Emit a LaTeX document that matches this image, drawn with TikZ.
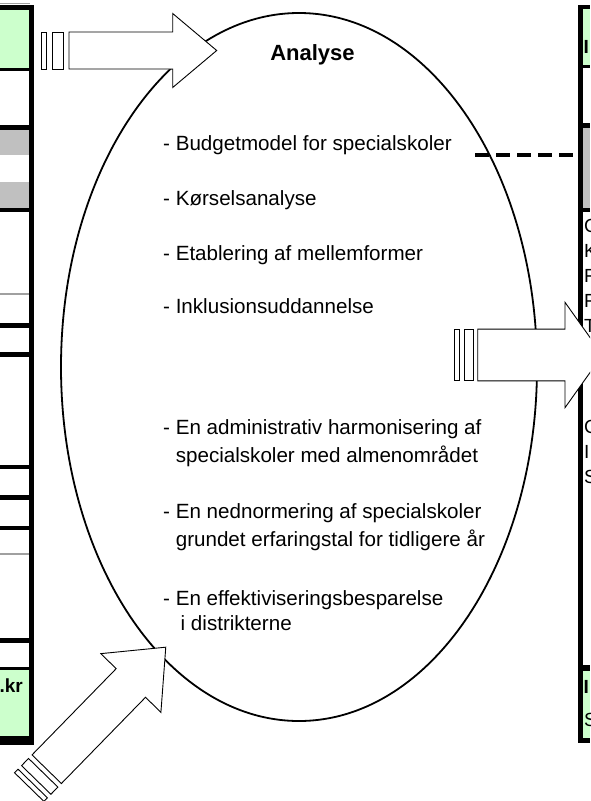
\documentclass[tikz,border=0pt]{standalone}
\usepackage{fontspec}
\setmainfont{Liberation Sans}
\definecolor{lgreen}{HTML}{CCFFCC}
\definecolor{lgray}{HTML}{C0C0C0}
\definecolor{lineg}{HTML}{A0A0A0}
\newcommand{\blockarr}[7]{%
  \draw[barrow] (0,-#2) -- (#1,-#2) -- (#1,-#3) -- ({#1+#4},0) -- (#1,#3) -- (#1,#2) -- (0,#2) -- cycle;
  \draw[barrow] (-#5,-#2) rectangle ({-#5-#6},#2);
  \draw[barrow] ({-2*#5-#6},-#2) rectangle ({-2*#5-#6-#7},#2);
}
\begin{document}
\begin{tikzpicture}[x=1pt,y=-1pt,
  txt/.style={anchor=base west, inner sep=0pt, font=\fontsize{20.6}{24}\selectfont},
  rtxt/.style={anchor=base west, inner sep=0pt, font=\fontsize{19}{22}\selectfont},
  title/.style={anchor=base, inner sep=0pt, font=\fontsize{22}{26}\selectfont\bfseries},
  bk/.style={fill=black},
  gl/.style={fill=lineg},
  barrow/.style={draw=black, fill=white, line width=0.9pt, line join=miter},
  oval/.style={draw=black, line width=1.8pt},
  dashline/.style={draw=black, line width=3.5pt, dash pattern=on 13.5pt off 7.5pt}]
\useasboundingbox (0,0) rectangle (590,801);
\clip (0,0) rectangle (590,801);
\fill[white] (0,0) rectangle (590,801);

% ---------- left column ----------
\fill[lgreen] (0,10) rectangle (29,68);
\fill[lgray] (0,130) rectangle (29,155);
\fill[lgray] (0,182) rectangle (29,208);
\fill[lgreen] (0,670) rectangle (29,736);
\fill[gl] (0,2.5) rectangle (30,3.7);
\fill[bk] (0,5) rectangle (34,10);
\fill[bk] (0,68) rectangle (29,71);
\fill[bk] (0,125) rectangle (29,130);
\fill[bk] (0,208) rectangle (29,212);
\fill[gl] (0,293) rectangle (29,294.8);
\fill[bk] (0,323) rectangle (29,328);
\fill[bk] (0,352) rectangle (29,357);
\fill[bk] (0,465) rectangle (29,469);
\fill[bk] (0,495) rectangle (29,500);
\fill[bk] (0,526) rectangle (29,530);
\fill[gl] (0,553) rectangle (29,554.8);
\fill[bk] (0,638) rectangle (29,643);
\fill[bk] (0,667) rectangle (29,670);
\fill[bk] (0,736) rectangle (34,745);
\fill[bk] (29,5) rectangle (34,745);
\node[anchor=base east, inner sep=0pt, font=\fontsize{19}{22}\selectfont\bfseries] (lkr) at (23,692) {.kr};

% ---------- right column ----------
\fill[lgreen] (583,9) rectangle (590,65);
\fill[lgray] (583,128) rectangle (590,208);
\fill[lgreen] (583,671) rectangle (590,738);
\fill[bk] (578,5) rectangle (590,9);
\fill[bk] (583,65) rectangle (590,68);
\fill[bk] (583,123) rectangle (590,128);
\fill[bk] (583,208) rectangle (590,212);
\fill[bk] (583,665) rectangle (590,671);
\fill[bk] (578,738) rectangle (590,743);
\fill[bk] (578,5) rectangle (583,743);
\node[rtxt, font=\fontsize{19}{22}\selectfont\bfseries] (r0) at (583.5,53) {I};
\node[rtxt] (r1) at (584,232) {C};
\node[rtxt] (r2) at (584,257) {K};
\node[rtxt] (r3) at (584,282) {F};
\node[rtxt] (r4) at (584,307) {F};
\node[rtxt] (r5) at (584,332) {T};
\node[rtxt] (r6) at (584,433) {C};
\node[rtxt] (r7) at (584,458) {I};
\node[rtxt] (r8) at (584,483) {S};
\node[rtxt, font=\fontsize{19}{22}\selectfont\bfseries] (r9) at (583.5,693) {I};
\node[rtxt] (r10) at (584,726) {S};

% ---------- ellipse ----------
\draw[oval] (299,367) ellipse [x radius=238pt, y radius=354pt];
\node[title] (analyse) at (312.5,60) {Analyse};
\node[txt] (t1) at (163,150) {- Budgetmodel for specialskoler};
\node[txt] (t2) at (163,205) {- Kørselsanalyse};
\node[txt] (t3) at (163,260) {- Etablering af mellemformer};
\node[txt] (t4) at (163,313) {- Inklusionsuddannelse};
\node[txt] (t5a) at (163,434) {- En administrativ harmonisering af};
\node[txt] (t5b) at (175.6,462) {specialskoler med almenområdet};
\node[txt] (t6a) at (163,518) {- En nednormering af specialskoler};
\node[txt] (t6b) at (175.6,546.5) {grundet erfaringstal for tidligere år};
\node[txt] (t7a) at (163,605) {- En effektiviseringsbesparelse};
\node[txt] (t7b) at (180.5,630) {i distrikterne};

% ---------- dashed connector ----------
\coordinate (dashA) at (475,155);
\coordinate (dashB) at (578,155);
\draw[dashline] (dashA) -- (dashB);

% ---------- block arrows ----------
\begin{scope}[shift={(69,50.5)}]
  \blockarr{103.7}{18.5}{37}{44}{5.7}{11}{5}
\end{scope}
\begin{scope}[shift={(477.7,355)}]
  \blockarr{87.3}{25.9}{52.7}{37.5}{4.4}{9}{5.7}
\end{scope}
\begin{scope}[shift={(46.7,769.2)}, rotate=45.7]
  \blockarr{120.5}{20.5}{42}{50}{5}{10}{5}
\end{scope}
\end{tikzpicture}
\end{document}
